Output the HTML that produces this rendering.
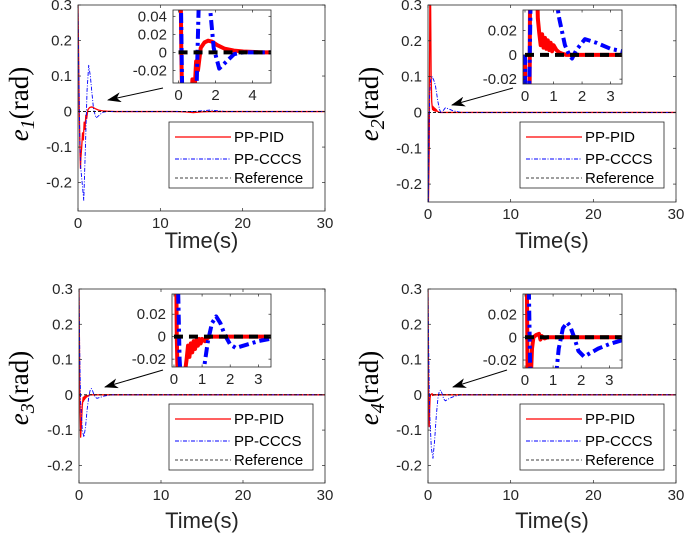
<!DOCTYPE html>
<html><head><meta charset="utf-8"><style>
html,body{margin:0;padding:0;background:#fff;}
svg{display:block;font-family:"Liberation Sans",sans-serif;}
</style></head><body>
<svg id="fig" width="685" height="540" viewBox="0 0 685 540" xmlns="http://www.w3.org/2000/svg"></svg>
<script>
// ---- data (time in s, error in rad) ----
const p1PidT = [0,0.05,0.15,0.25,0.3,0.35,0.45,0.55,0.65,0.75,0.85,0.95,1.05,1.2,1.4,1.6,1.8,2.1,2.5,3,3.5,4.5,12,13,14,15,16,30];
const p1PidV = [0.3,0.2,0,-0.12,-0.16,-0.13,-0.1,-0.06,-0.08,-0.03,-0.05,-0.01,-0.02,0.005,0.011,0.013,0.012,0.008,0.004,0.002,0.001,0,0,-0.001,-0.003,-0.001,0,0];
const p1CcT = [0,0.1,0.2,0.3,0.5,0.7,0.9,1.1,1.3,1.5,1.7,1.9,2.2,2.6,3.0,3.5,4.5,14,16,18,30];
const p1CcV = [0.3,0.1,-0.05,-0.15,-0.2,-0.25,-0.1,0.06,0.13,0.1,0.05,0.005,-0.018,-0.01,-0.002,0,0,0,0.004,0,0];
const p2PidT = [0,0.05,0.15,0.22,0.3,0.38,0.45,0.5,0.55,0.6,0.65,0.7,0.75,0.8,0.85,0.9,0.95,1.0,1.1,1.2,1.3,1.45,2,30];
const p2PidV = [0,-0.26,-0.1,0.3,0.35,0.1,0.03,0.018,0.008,0.017,0.006,0.014,0.005,0.012,0.004,0.01,0.003,0.008,0.004,0.002,0.001,0,0,0];
const p2CcT = [0,0.05,0.1,0.2,0.3,0.5,0.7,0.9,1.0,1.2,1.4,1.55,1.65,1.8,2.1,2.5,3.0,3.4,4,30];
const p2CcV = [0,-0.26,-0.1,0.05,0.09,0.1,0.09,0.075,0.06,0.03,0.008,0,-0.003,0.004,0.013,0.01,0.005,0.003,0,0];
const p3PidT = [0,0.1,0.2,0.3,0.4,0.45,0.5,0.55,0.6,0.65,0.7,0.75,0.8,0.85,0.9,0.95,1.0,1.1,1.2,1.3,1.5,30];
const p3PidV = [0.3,0,-0.12,-0.08,-0.03,-0.02,-0.008,-0.018,-0.006,-0.014,-0.004,-0.011,-0.003,-0.008,-0.002,-0.006,-0.002,-0.004,-0.001,0,0,0];
const p3CcT = [0,0.1,0.2,0.4,0.6,0.8,1.0,1.2,1.35,1.5,1.65,1.8,2.0,2.2,2.6,3.0,3.4,4,30];
const p3CcV = [0.3,0.1,-0.02,-0.1,-0.12,-0.09,-0.04,-0.005,0.012,0.018,0.012,0.002,-0.007,-0.01,-0.007,-0.004,-0.002,0,0];
const p4PidT = [0,0.05,0.1,0.15,0.2,0.25,0.3,0.4,0.5,0.55,0.6,0.7,0.8,1.0,30];
const p4PidV = [0.3,0.1,-0.05,-0.09,-0.04,-0.01,0,0.002,0.003,-0.002,0.001,-0.001,0,0,0];
const p4CcT = [0,0.1,0.2,0.4,0.6,0.8,1.0,1.2,1.35,1.5,1.6,1.75,1.9,2.1,2.6,3.0,3.4,4,30];
const p4CcV = [0.3,0.1,-0.05,-0.15,-0.18,-0.13,-0.06,-0.01,0.008,0.013,0.01,0,-0.012,-0.017,-0.01,-0.006,-0.003,0,0];
const refT = [0,30];
const refV = [0,0];
const mainXTicks = [0,10,20,30];
const mainYTicks = [-0.2,-0.1,0,0.1,0.2,0.3];
const mainYLabels = ["-0.2","-0.1","0","0.1","0.2","0.3"];
const legendLabels = ["PP-PID","PP-CCCS","Reference"];

const NS = "http://www.w3.org/2000/svg";
const svg = document.getElementById("fig");
let clipId = 0;
function mk(tag, attrs, parent){
  const e = document.createElementNS(NS, tag);
  for (const k in attrs) e.setAttribute(k, attrs[k]);
  (parent||svg).appendChild(e);
  return e;
}
function scale(d0,d1,r0,r1){ return v => r0 + (v-d0)/(d1-d0)*(r1-r0); }

function axes(name, b, xlim, ylim, xt, xtl, yt, ytl, series, thick){
  const g = mk("g", {});
  
  
  const bg = mk("rect", {x:b.x0,y:b.y0,width:b.x1-b.x0,height:b.y1-b.y0,fill:"#fff"}, g);
  
  
  const X = scale(xlim[0],xlim[1],b.x0,b.x1), Y = scale(ylim[0],ylim[1],b.y1,b.y0);
  const id = "c" + (clipId++);
  const cp = mk("clipPath", {id:id}, g);
  mk("rect", {x:b.x0,y:b.y0,width:b.x1-b.x0,height:b.y1-b.y0}, cp);
  const lg = mk("g", {"clip-path":"url(#"+id+")"}, g);
  series.forEach(s => {
    let d = "";
    s.t.forEach((t,i) => { d += (i?"L":"M") + X(t).toFixed(2) + "," + Y(s.v[i]).toFixed(2); });
    const p = mk("path", {d:d, fill:"none", stroke:s.color, "stroke-width":thick?s.tw:s.w, "stroke-dasharray":thick?s.tdash:s.dash, "stroke-linejoin":"round"}, lg);
    
    
  });
  const fr = mk("rect", {x:b.x0,y:b.y0,width:b.x1-b.x0,height:b.y1-b.y0,fill:"none",stroke:"#262626","stroke-width":0.8}, g);
  
  
  const tl = thick ? 2.5 : 3;
  xt.forEach((t,i) => {
    const x = X(t);
    mk("line", {x1:x,x2:x,y1:b.y1,y2:b.y1-tl,stroke:"#262626","stroke-width":0.7}, g);
    mk("line", {x1:x,x2:x,y1:b.y0,y2:b.y0+tl,stroke:"#262626","stroke-width":0.7}, g);
    const tx = mk("text", {x:x,y:b.y1+17,"text-anchor":"middle","font-size":15,fill:"#262626"}, g);
    tx.textContent = xtl[i];
    
    
  });
  yt.forEach((t,i) => {
    const y = Y(t);
    mk("line", {x1:b.x0,x2:b.x0+tl,y1:y,y2:y,stroke:"#262626","stroke-width":0.7}, g);
    mk("line", {x1:b.x1,x2:b.x1-tl,y1:y,y2:y,stroke:"#262626","stroke-width":0.7}, g);
    const ty = mk("text", {x:b.x0-6,y:y+5,"text-anchor":"end","font-size":15,fill:"#262626"}, g);
    ty.textContent = ytl[i];
    
    
  });
}

function seriesFor(pt,pv,ct,cv){
  return [
    {name:"pp-pid-line", t:pt, v:pv, color:"#ff0000", w:1.3, tw:4, dash:"none", tdash:"none"},
    {name:"pp-cccs-line", t:ct, v:cv, color:"#0000ff", w:0.9, tw:4, dash:"4,1.5,1,1.5", tdash:"10,4,3,4"},
    {name:"reference-line", t:refT, v:refV, color:"#000", w:0.8, tw:4, dash:"3,2", tdash:"9,6"}
  ];
}

const panels = [
  {n:1, main:{x0:78,x1:325,y0:5,y1:211}, ylim:[-0.28,0.3], pt:p1PidT,pv:p1PidV,ct:p1CcT,cv:p1CcV,
   ins:{x0:173,x1:271,y0:10,y1:83}, ixl:[-0.3,5], iyl:[-0.034,0.047], ixt:[0,2,4], iyt:[-0.02,0,0.02,0.04], iytl:["-0.02","0","0.02","0.04"],
   leg:{x:169,y:122}, arrow:[163,88,108,100], lab:{x:28,y:104}, tl:{y:248}},
  {n:2, main:{x0:428,x1:676,y0:5,y1:202}, ylim:[-0.25,0.3], pt:p2PidT,pv:p2PidV,ct:p2CcT,cv:p2CcV,
   ins:{x0:523,x1:622,y0:10,y1:84}, ixl:[-0.07,3.4], iyl:[-0.024,0.037], ixt:[0,1,2,3], iyt:[-0.02,0,0.02], iytl:["-0.02","0","0.02"],
   leg:{x:520,y:122}, arrow:[513,88,452,105], lab:{x:378,y:104}, tl:{y:248}},
  {n:3, main:{x0:79,x1:325,y0:289,y1:483}, ylim:[-0.25,0.3], pt:p3PidT,pv:p3PidV,ct:p3CcT,cv:p3CcV,
   ins:{x0:172,x1:271,y0:294,y1:367}, ixl:[-0.07,3.45], iyl:[-0.027,0.038], ixt:[0,1,2,3], iyt:[-0.02,0,0.02], iytl:["-0.02","0","0.02"],
   leg:{x:169,y:404}, arrow:[163,370,105,387], lab:{x:28,y:388}, tl:{y:528}},
  {n:4, main:{x0:428,x1:676,y0:289,y1:483}, ylim:[-0.25,0.3], pt:p4PidT,pv:p4PidV,ct:p4CcT,cv:p4CcV,
   ins:{x0:523,x1:622,y0:294,y1:368}, ixl:[-0.07,3.45], iyl:[-0.027,0.038], ixt:[0,1,2,3], iyt:[-0.02,0,0.02], iytl:["-0.02","0","0.02"],
   leg:{x:520,y:404}, arrow:[507,370,453,387], lab:{x:378,y:388}, tl:{y:528}}
];

const defs = mk("defs", {});
const mrk = mk("marker", {id:"ah", markerWidth:14, markerHeight:10, refX:13, refY:5, orient:"auto", markerUnits:"userSpaceOnUse"}, defs);
mk("path", {d:"M0,0 L14,5 L0,10 L4,5 Z", fill:"#000"}, mrk);

panels.forEach(p => {
  const s = seriesFor(p.pt,p.pv,p.ct,p.cv);
  axes("panel-" + p.n + "-axes", p.main, [0,30], p.ylim, mainXTicks, mainXTicks.map(String), mainYTicks, mainYLabels, s, false);
  const L = p.leg;
  const lg = mk("g", {});
  
  
  mk("rect", {x:L.x,y:L.y,width:144,height:66,fill:"#fff",stroke:"#262626","stroke-width":0.8}, lg);
  const rows = [15,37,56];
  s.forEach((sr,i) => {
    const ly = L.y + rows[i];
    mk("line", {x1:L.x+6,x2:L.x+62,y1:ly,y2:ly,stroke:sr.color,"stroke-width":sr.w,"stroke-dasharray":sr.dash}, lg);
    const t = mk("text", {x:L.x+65,y:ly+5,"font-size":15,fill:"#000"}, lg);
    t.textContent = legendLabels[i];
    
    
  });
  const a = p.arrow;
  const ar = mk("line", {x1:a[0],y1:a[1],x2:a[2],y2:a[3],stroke:"#000","stroke-width":1,"marker-end":"url(#ah)"});
  
  
  axes("panel-" + p.n + "-inset", p.ins, p.ixl, p.iyl, p.ixt, p.ixt.map(String), p.iyt, p.iytl, s, true);
  const yl = mk("text", {x:0,y:0,transform:"translate("+p.lab.x+","+p.lab.y+") rotate(-90)","text-anchor":"middle","font-size":27,"font-family":"'Liberation Serif',serif",fill:"#000"});
  
  
  const e1 = mk("tspan", {"font-style":"italic"}, yl); e1.textContent = "e";
  const e2 = mk("tspan", {"font-style":"italic","font-size":20,dy:6}, yl); e2.textContent = String(p.n);
  const e3 = mk("tspan", {dy:-6}, yl); e3.textContent = "(rad)";
  const cx = (p.main.x0 + p.main.x1)/2;
  const xl = mk("text", {x:cx,y:p.tl.y,"text-anchor":"middle","font-size":22,fill:"#262626"});
  xl.textContent = "Time(s)";
  
  
});
</script>
</body></html>
